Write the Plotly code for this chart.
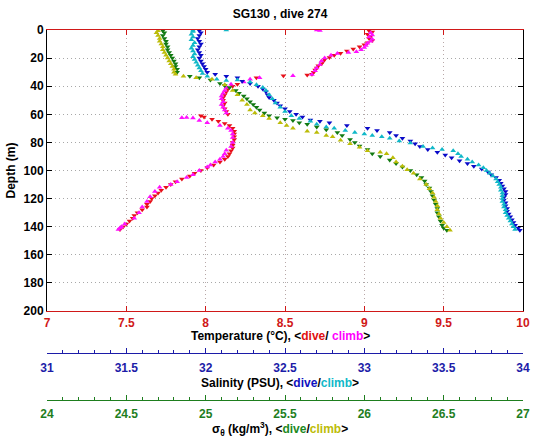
import plotly.graph_objects as go

# ---------------- data ----------------
temp_dive_depth = [0.5, 1.5, 3, 4.5, 6, 7.5, 9, 10.5, 12, 13.5, 15, 16.5, 18, 19.5, 21, 22.5, 24, 25.5, 27, 28.5,
                   30, 31.5, 32, 32.5, 34, 38.6, 40, 42, 44, 46, 48, 50, 52, 54, 56, 58, 60, 61, 62, 63.5,
                   65, 66.5, 68, 70, 72, 74, 76, 78, 80, 82, 84, 86, 88, 90, 92, 94, 96, 98, 100, 102,
                   104, 106, 108, 110, 112, 114, 116, 118, 120, 122, 124, 126, 128, 130, 132, 134, 136, 138, 140, 142]
temp_dive = [9.03, 9.05, 9.02, 9.04, 9.03, 9.05, 9.02, 9.00, 8.97, 8.93, 8.89, 8.85, 8.81, 8.78, 8.75, 8.74, 8.73, 8.71, 8.70, 8.69,
             8.68, 8.67, 8.64, 8.49, 8.32, 8.20, 8.17, 8.14, 8.13, 8.12, 8.11, 8.11, 8.12, 8.11, 8.12, 8.13, 8.14, 7.97, 7.99, 8.04,
             8.08, 8.12, 8.15, 8.17, 8.18, 8.18, 8.18, 8.18, 8.17, 8.17, 8.17, 8.16, 8.15, 8.14, 8.12, 8.09, 8.05, 8.01, 7.97, 7.93,
             7.90, 7.85, 7.81, 7.78, 7.75, 7.72, 7.70, 7.68, 7.66, 7.65, 7.63, 7.63, 7.60, 7.57, 7.55, 7.54, 7.52, 7.50, 7.48, 7.46]

temp_climb_depth = [0, 0.3, 2, 3.5, 5, 6.5, 8, 9.5, 11, 12.5, 14, 15.4, 16, 16.8, 18, 20, 22, 24.6, 27, 29,
                    31.6, 32.5, 34, 35, 37, 38.6, 41, 43, 45, 47, 49, 51, 53, 55, 57, 59, 62.5, 62.3, 62.6, 64.5,
                    66, 68, 70, 71.6, 74, 76.5, 80, 83, 85.6, 88, 90, 92, 94, 96, 97.5, 100, 103, 105, 108, 110,
                    112, 115, 118.6, 122, 126, 130, 134, 138, 140, 141, 142]
temp_climb = [8.70, 8.72, 9.04, 9.05, 9.03, 9.05, 9.04, 9.02, 9.01, 9.00, 8.98, 8.95, 8.90, 8.83, 8.79, 8.75, 8.73, 8.72, 8.70, 8.69,
              8.67, 8.55, 8.34, 8.28, 8.24, 8.16, 8.13, 8.12, 8.11, 8.10, 8.10, 8.11, 8.10, 8.11, 8.12, 8.13, 7.85, 7.88, 7.92, 7.96,
              8.01, 8.09, 8.14, 8.16, 8.17, 8.17, 8.17, 8.16, 8.13, 8.12, 8.11, 8.09, 8.06, 8.03, 8.01, 7.96, 7.92, 7.88, 7.82, 7.78,
              7.71, 7.68, 7.65, 7.63, 7.60, 7.58, 7.55, 7.49, 7.47, 7.46, 7.45]

sal_dive_depth = [0.5, 2, 4, 6, 8, 10, 12, 14, 16, 18, 20, 22, 24, 26, 28, 30, 31.5, 33, 34, 36.5,
                  38, 40, 42, 44, 46, 48, 50, 52, 54, 56, 58, 60, 62, 64, 65, 66, 68, 70, 71.5, 73,
                  75, 77, 79, 81, 83, 85, 87, 89, 91, 93, 95, 97, 99, 101, 103, 105, 107, 109, 111, 113,
                  115, 117, 119, 121, 123, 125, 127, 129, 131, 133, 135, 137, 139, 141, 142.5]
sal_dive = [31.96, 31.97, 31.96, 31.95, 31.96, 31.97, 31.96, 31.95, 31.96, 31.97, 31.96, 31.97, 31.98, 31.99, 32.00, 32.01, 32.06, 32.13, 32.20, 32.23,
            32.28, 32.33, 32.36, 32.38, 32.39, 32.40, 32.43, 32.45, 32.47, 32.50, 32.53, 32.57, 32.61, 32.66, 32.72, 32.78, 32.89, 33.02, 33.08, 33.16,
            33.20, 33.24, 33.29, 33.32, 33.35, 33.40, 33.46, 33.51, 33.55, 33.60, 33.65, 33.69, 33.74, 33.78, 33.80, 33.83, 33.85, 33.86, 33.87, 33.88,
            33.89, 33.89, 33.88, 33.88, 33.89, 33.89, 33.90, 33.90, 33.91, 33.92, 33.93, 33.94, 33.95, 33.97, 33.98]

sal_climb_depth = [0, 0.2, 1, 3, 5, 7, 9, 11, 13, 15, 17, 19, 21, 23, 25, 27, 29, 31, 33, 35,
                   36, 35.5, 37, 39, 41, 43, 46, 49, 52, 55, 58, 61, 63, 65, 67, 69, 70, 71.5, 73, 74,
                   75, 76, 77, 79, 80.5, 83, 84, 85, 86, 88, 90, 92, 94, 96, 98, 100, 102, 104, 106, 108,
                   110, 112, 114, 116, 118, 120, 122, 124, 126, 128, 130, 132, 134, 136, 138, 140, 142]
sal_climb = [32.13, 31.92, 31.92, 31.91, 31.92, 31.91, 31.93, 31.92, 31.91, 31.92, 31.93, 31.92, 31.93, 31.94, 31.95, 31.96, 31.97, 31.98, 32.01, 32.07,
             32.13, 32.20, 32.28, 32.32, 32.36, 32.38, 32.40, 32.42, 32.44, 32.47, 32.50, 32.54, 32.59, 32.66, 32.70, 32.76, 32.81, 32.88, 32.94, 33.00,
             33.05, 33.11, 33.16, 33.22, 33.29, 33.37, 33.43, 33.49, 33.56, 33.59, 33.61, 33.65, 33.68, 33.72, 33.75, 33.77, 33.79, 33.81, 33.83, 33.84,
             33.85, 33.86, 33.86, 33.87, 33.87, 33.87, 33.87, 33.88, 33.88, 33.89, 33.89, 33.90, 33.91, 33.92, 33.93, 33.94, 33.95]

sig_dive_depth = [0.5, 2, 4, 6, 8, 10, 12, 14, 16, 18, 20, 22, 24, 26, 28, 30, 33, 34, 35.5, 38,
                  39.5, 41, 43, 45, 47, 49, 51, 53, 55, 57, 59, 61, 62.5, 63.5, 64.5, 66, 67, 69, 71, 73,
                  75, 78, 80, 82.5, 85, 88, 90, 92.5, 95, 97.5, 100, 103, 105, 107.5, 110, 112.5, 115, 118, 121, 124,
                  127, 130, 133, 136, 139, 141, 142.5]
sig_dive = [24.73, 24.74, 24.73, 24.74, 24.75, 24.75, 24.76, 24.76, 24.77, 24.78, 24.79, 24.80, 24.81, 24.81, 24.82, 24.82, 24.90, 24.96, 25.03, 25.09,
            25.12, 25.15, 25.19, 25.21, 25.24, 25.26, 25.28, 25.30, 25.32, 25.34, 25.37, 25.40, 25.45, 25.50, 25.55, 25.59, 25.64, 25.70, 25.76, 25.83,
            25.86, 25.91, 25.94, 25.97, 26.02, 26.05, 26.10, 26.16, 26.20, 26.24, 26.29, 26.33, 26.36, 26.38, 26.39, 26.41, 26.42, 26.43, 26.44, 26.45,
            26.46, 26.46, 26.47, 26.48, 26.49, 26.50, 26.52]

sig_climb_depth = [0.5, 2, 4, 6, 8, 10, 12, 14, 16, 18, 20, 22, 24, 26, 28, 30, 31.5, 33, 34, 35,
                   39, 43, 46, 50, 53, 57, 59, 61, 63, 66, 68, 70, 72, 73, 75, 76, 78.5, 81, 83.5, 86,
                   87, 88, 91, 94, 97, 99.5, 102, 106, 110, 113, 116, 119, 122, 125, 128, 131, 134, 137, 140, 142.5]
sig_climb = [24.70, 24.69, 24.70, 24.71, 24.71, 24.72, 24.73, 24.73, 24.74, 24.75, 24.76, 24.77, 24.78, 24.79, 24.80, 24.80, 24.81, 24.86, 24.94, 25.04,
             25.12, 25.17, 25.20, 25.23, 25.26, 25.28, 25.31, 25.36, 25.40, 25.47, 25.51, 25.55, 25.64, 25.70, 25.76, 25.80, 25.85, 25.91, 25.97, 26.02,
             26.10, 26.14, 26.18, 26.20, 26.24, 26.27, 26.31, 26.35, 26.39, 26.41, 26.43, 26.44, 26.45, 26.46, 26.46, 26.47, 26.48, 26.50, 26.52, 26.54]

temp_ticks = [7, 7.5, 8, 8.5, 9, 9.5, 10]
sal_ticks = [31, 31.5, 32, 32.5, 33, 33.5, 34]
sig_ticks = [24, 24.5, 25, 25.5, 26, 26.5, 27]
depth_ticks = [0, 20, 40, 60, 80, 100, 120, 140, 160, 180, 200]

# ---------------- styling ----------------
FONT = "Liberation Sans"
RED_T, BLUE_T, GREEN_T = "#d01818", "#1c1ca8", "#1e7e1e"
C_TD, C_TC = "#e8101a", "#ff10ff"
C_SD, C_SC = "#0a0ac8", "#10b8c8"
C_GD, C_GC = "#127a12", "#bcbc08"
MS = 5

fig = go.Figure()

def add(x, y, color, sym, xa):
    fig.add_trace(go.Scatter(x=x, y=y, mode="markers", xaxis=xa, yaxis="y",
                             marker=dict(symbol=sym, size=MS, color=color, line=dict(width=0)),
                             showlegend=False, hoverinfo="skip"))

add(temp_dive, temp_dive_depth, C_TD, "triangle-down", "x")
add(temp_climb, temp_climb_depth, C_TC, "triangle-up", "x")
add(sal_dive, sal_dive_depth, C_SD, "triangle-down", "x2")
add(sal_climb, sal_climb_depth, C_SC, "triangle-up", "x2")
add(sig_dive, sig_dive_depth, C_GD, "triangle-down", "x3")
add(sig_climb, sig_climb_depth, C_GC, "triangle-up", "x3")

W, H = 535, 442
L, R, T, B = 47, 12, 30, 0
ph = H - T - B
plot_bottom = 311
ydom0 = (H - plot_bottom) / ph
sal_pos = (H - 353) / ph
sig_pos = (H - 400) / ph

def py(pix):
    """pixel row -> paper y"""
    return (H - B - pix) / ph

TITLE_X = (280 - L) / (W - L - R)

def tfont(c):
    return dict(family=FONT, size=12, color=c, weight="bold")

GRID_DASH = "1px,3px"

fig.update_layout(
    width=W, height=H,
    margin=dict(l=L, r=R, t=T, b=B, autoexpand=False),
    paper_bgcolor="white", plot_bgcolor="white",
    title=dict(text="SG130 , dive 274", x=TITLE_X, xref="paper", xanchor="center",
               y=1 - 14 / H, yref="container", yanchor="middle",
               font=dict(family=FONT, size=12, color="black", weight="bold")),
    xaxis=dict(range=[7, 10], tickvals=temp_ticks, ticktext=[f"{v:g}" for v in temp_ticks],
               showline=True, linecolor=RED_T, linewidth=1, mirror="ticks",
               ticks="inside", ticklen=5, tickcolor=RED_T, ticklabelstandoff=1,
               showgrid=True, gridcolor="#b8a8a8", griddash=GRID_DASH, gridwidth=1,
               zeroline=False, tickfont=tfont(RED_T)),
    xaxis2=dict(range=[31, 34], overlaying="x", anchor="free", position=sal_pos, side="bottom",
                tickvals=sal_ticks, ticktext=[f"{v:g}" for v in sal_ticks],
                showline=True, linecolor=BLUE_T, linewidth=1,
                ticks="inside", ticklen=5, tickcolor=BLUE_T, ticklabelstandoff=4,
                minor=dict(dtick=0.1, ticks="inside", ticklen=3, tickcolor=BLUE_T, showgrid=False),
                showgrid=False, zeroline=False, tickfont=tfont(BLUE_T)),
    xaxis3=dict(range=[24, 27], overlaying="x", anchor="free", position=sig_pos, side="bottom",
                tickvals=sig_ticks, ticktext=[f"{v:g}" for v in sig_ticks],
                showline=True, linecolor=GREEN_T, linewidth=1,
                ticks="inside", ticklen=5, tickcolor=GREEN_T, ticklabelstandoff=3,
                minor=dict(dtick=0.1, ticks="inside", ticklen=3, tickcolor=GREEN_T, showgrid=False),
                showgrid=False, zeroline=False, tickfont=tfont(GREEN_T)),
    yaxis=dict(domain=[ydom0, 1], range=[200, 0], tickvals=depth_ticks,
               showline=True, linecolor="black", linewidth=1, mirror="ticks",
               ticks="inside", ticklen=5, tickcolor="black",
               showgrid=True, gridcolor="#a8a8a8", griddash=GRID_DASH, gridwidth=1,
               zeroline=False, tickfont=tfont("black"),
               title=dict(text="Depth (m)", font=tfont("black"), standoff=5)),
)

axis_titles = [
    ("Temperature (°C), &lt;<span style='color:#e01010'>dive</span>/ "
     "<span style='color:#ff00ff'>climb</span>&gt;", 336),
    ("Salinity (PSU), &lt;<span style='color:#1010c0'>dive</span>/"
     "<span style='color:#10b8c8'>climb</span>&gt;", 382.5),
    ("σ<sub>θ</sub> (kg/m<sup>3</sup>), &lt;<span style='color:#1e8a1e'>dive</span>/"
     "<span style='color:#bcbc08'>climb</span>&gt;", 429),
]
for text, row in axis_titles:
    fig.add_annotation(text=text, x=TITLE_X, xref="paper", xanchor="center",
                       y=py(row), yref="paper", yanchor="middle",
                       showarrow=False, font=tfont("black"))

fig.write_html("out.html", config={"displayModeBar": False},
               post_script="document.body.style.margin='0px';")
